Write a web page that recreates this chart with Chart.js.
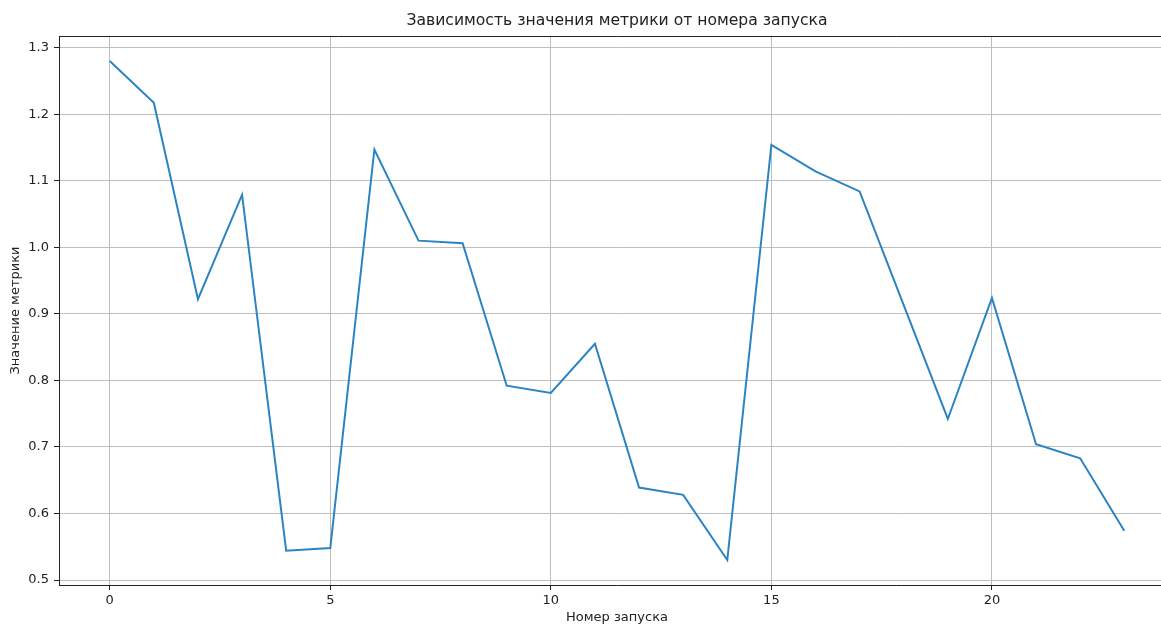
<!DOCTYPE html>
<html>
<head>
<meta charset="utf-8">
<script src="https://cdn.jsdelivr.net/npm/chart.js@4.4.0/dist/chart.umd.min.js"></script>
<style>
  html, body { margin: 0; padding: 0; background: #fff; overflow: hidden; }
  #wrap { width: 1180px; height: 624px; }
</style>
</head>
<body>
<div id="wrap"><canvas id="runChart"></canvas></div>
<script>
// номер запуска и значение метрики
const runs = [0, 1, 2, 3, 4, 5, 6, 7, 8, 9, 10, 11, 12, 13, 14, 15, 16, 17, 18, 19, 20, 21, 22, 23];
const metric = [1.280, 1.217, 0.922, 1.079, 0.544, 0.548, 1.147, 1.010, 1.006, 0.792,
                0.781, 0.855, 0.639, 0.628, 0.530, 1.154, 1.114, 1.084, 0.913, 0.742,
                0.924, 0.704, 0.683, 0.574];
const xTicks = [0, 5, 10, 15, 20];
const yTicks = [0.5, 0.6, 0.7, 0.8, 0.9, 1.0, 1.1, 1.2, 1.3];

const xMin = -1.15, xMax = 24.15;
const yMin = 0.4925, yMax = 1.3175;

Chart.defaults.font.family = "'DejaVu Sans', sans-serif";
Chart.defaults.color = '#222';

const gridColor = '#bebebe';
const axisColor = '#222';

const ctx = document.getElementById('runChart').getContext('2d');
new Chart(ctx, {
  type: 'line',
  data: {
    datasets: [{
      data: runs.map((r, i) => ({ x: r, y: metric[i] })),
      borderColor: '#2b84c2',
      borderWidth: 2,
      pointRadius: 0,
      tension: 0,
      fill: false
    }]
  },
  options: {
    responsive: true,
    maintainAspectRatio: false,
    animation: false,
    layout: { padding: { left: 0, right: 5, top: 0, bottom: 0 } },
    plugins: {
      legend: { display: false },
      title: { display: false },
      tooltip: { enabled: false }
    },
    scales: {
      x: {
        type: 'linear',
        position: 'bottom',
        min: xMin,
        max: xMax,
        afterBuildTicks: s => { s.ticks = xTicks.map(v => ({ value: v })); },
        afterFit: s => { s.height = 39; },
        ticks: { font: { size: 13 }, padding: 3, color: '#222', callback: v => String(v) },
        grid: { color: gridColor, lineWidth: 1, tickLength: 5, tickColor: axisColor, tickWidth: 1 },
        border: { color: axisColor, width: 1 },
        title: {
          display: true,
          text: 'Номер запуска',
          font: { size: 13, lineHeight: 1 },
          color: '#222',
          padding: { top: 0, bottom: 0 }
        }
      },
      top: {
        type: 'linear',
        position: 'top',
        min: xMin,
        max: xMax,
        afterFit: s => { s.height = 36; },
        ticks: { display: false },
        grid: { display: false, drawTicks: false },
        border: { display: true, color: axisColor, width: 1 },
        title: {
          display: true,
          text: 'Зависимость значения метрики от номера запуска',
          font: { size: 15.6, lineHeight: 1.2 },
          color: '#222',
          padding: { top: 12, bottom: 4 }
        }
      },
      y: {
        type: 'linear',
        min: yMin,
        max: yMax,
        afterBuildTicks: s => { s.ticks = yTicks.map(v => ({ value: v })); },
        afterFit: s => { s.width = 59; },
        ticks: { font: { size: 13 }, padding: 5, color: '#222', callback: v => v.toFixed(1) },
        grid: { color: gridColor, lineWidth: 1, tickLength: 5, tickColor: axisColor, tickWidth: 1 },
        border: { color: axisColor, width: 1 },
        title: {
          display: true,
          text: 'Значение метрики',
          font: { size: 13, lineHeight: 1.2 },
          color: '#222',
          padding: { top: 8, bottom: 0 }
        }
      }
    }
  }
});
</script>
</body>
</html>
